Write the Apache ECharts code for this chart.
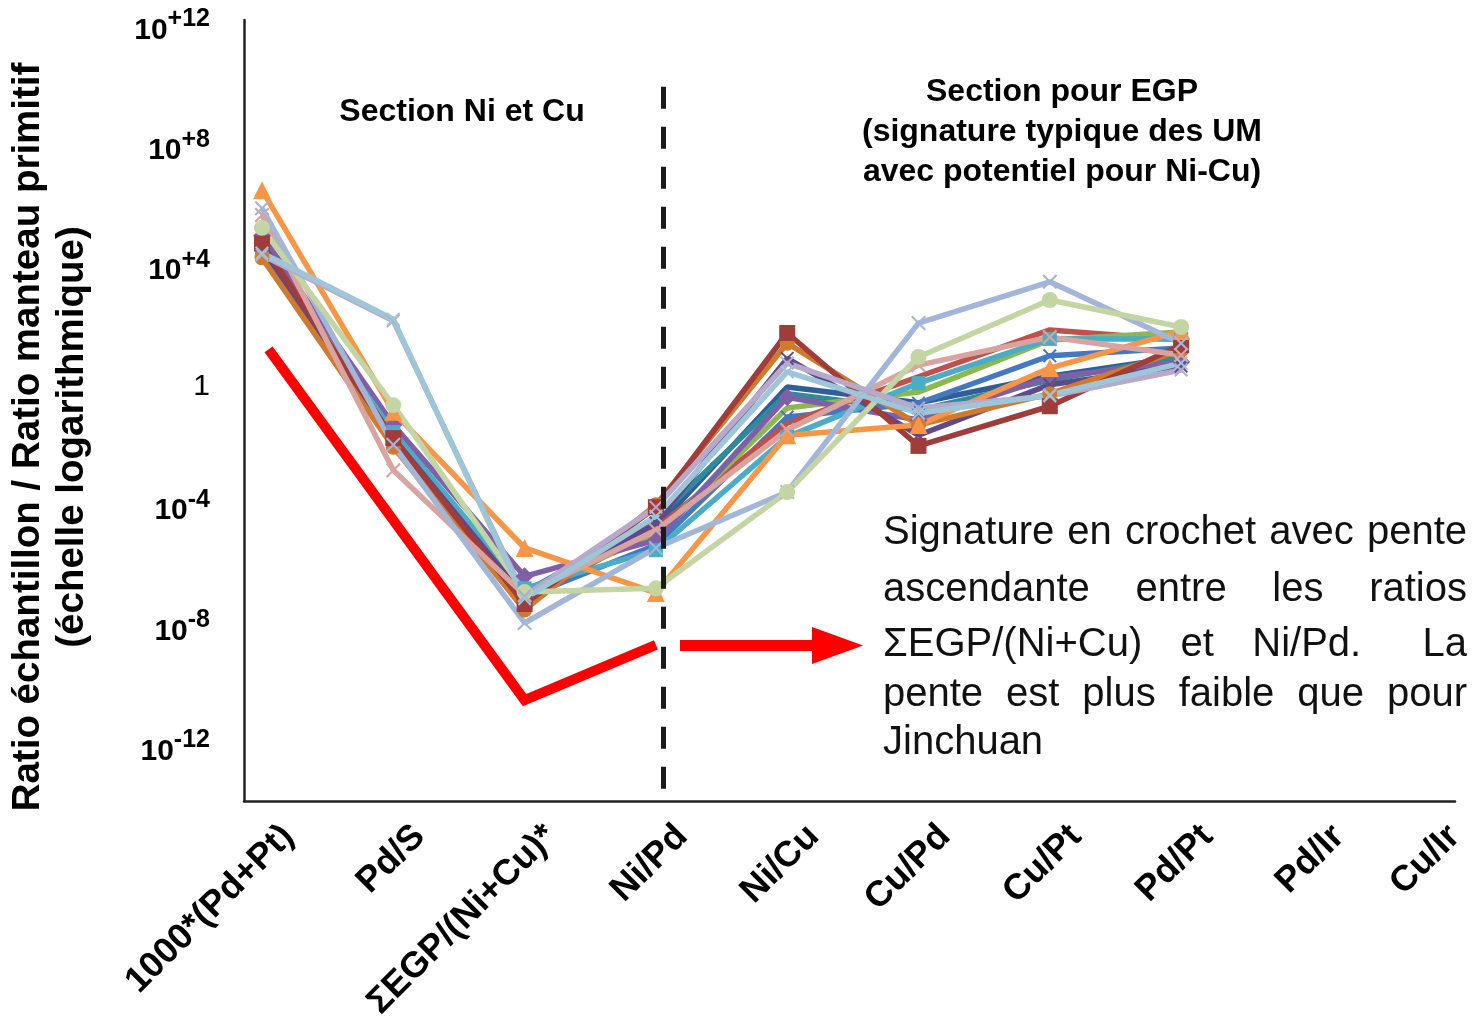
<!DOCTYPE html>
<html><head><meta charset="utf-8">
<script src="https://cdn.jsdelivr.net/npm/echarts@6/dist/echarts.min.js"></script>
<style>html,body{margin:0;padding:0;background:#fff}#c{width:1472px;height:1027px}</style>
</head><body><div id="c"></div>
<script>
// ---- data ----
const categories = ['1000*(Pd+Pt)','Pd/S','ΣEGP/(Ni+Cu)*','Ni/Pd','Ni/Cu','Cu/Pd','Cu/Pt','Pd/Pt','Pd/Ir','Cu/Ir'];
const yTickValues = [1e-12, 1e-8, 1e-4, 1, 1e4, 1e8, 1e12];

const sDarkBlue   = [4e4, 0.03, 1.3e-7, 2e-5, 1, 0.3, 2.3, 10];
const sDarkTeal   = [3.5e4, 0.03, 1.5e-7, 4e-5, 0.6, 0.17, 1.7, 10];
const sBlue       = [5e4, 0.025, 1e-7, 5.5e-6, 0.1, 0.29, 11, 20];
const sRed        = [7e4, 0.04, 8e-8, 2e-5, 0.063, 2.2, 80, 37];
const sGreen      = [8e4, 0.017, 1.7e-7, 1.2e-5, 0.2, 0.68, 37, 68];
const sPurple     = [1.1e5, 0.055, 5e-7, 8e-6, 0.46, 0.08, 2.1, 6.8];
const sTeal       = [4e4, 0.032, 2e-7, 3.7e-6, 0.022, 1.35, 40, 40];
const sDarkPurple = [3e4, 0.02, 1e-7, 3e-5, 9, 0.025, 1.2, 5];
const sBrown      = [2e4, 0.01, 3.8e-8, 1.2e-4, 29, 0.055, 0.6, 17];
const sDarkRed    = [6e4, 0.02, 6e-8, 1e-4, 63, 0.011, 0.23, 25];
const sOrange     = [3.6e6, 0.15, 4.4e-6, 1.4e-7, 0.025, 0.055, 4.3, 73];
const sPink       = [5.3e5, 1.7e-3, 1.2e-7, 1.7e-5, 0.037, 5.4, 46, 11.7];
const sSteelBlue  = [9e5, 0.012, 1.4e-8, 4.4e-6, 3.2e-4, 135, 3200, 29];
const sLightGreen = [2e5, 0.25, 1.5e-7, 2e-7, 3.2e-4, 10, 790, 100];
const sLavender   = [2.5e4, 160, 1.1e-7, 1e-4, 6.3, 0.2, 0.5, 3.7];
const sLightBlue  = [2.9e4, 180, 9e-8, 5e-5, 3.2, 0.135, 0.54, 6.3];

// red "signature" guide line (category position, value)
const signatureIdx = [0.05, 2, 3];
const signatureVal = [18, 3.8e-11, 2.6e-9];

const annotationLines = [
  'Signature en crochet avec pente',
  'ascendante entre les ratios',
  'ΣEGP/(Ni+Cu) et Ni/Pd.  La',
  'pente est plus faible que pour',
  'Jinchuan'
];

// ---- styling ----
const XSYM = 'path://M0,1L1,0L5,4L9,0L10,1L6,5L10,9L9,10L5,6L1,10L0,9L4,5Z';
const seriesDefs = [
  ['dark blue', sDarkBlue, '#2F5F9A', 'none', 0],
  ['dark teal', sDarkTeal, '#2F8A9A', 'none', 0],
  ['blue', sBlue, '#4478C0', XSYM, 14],
  ['red', sRed, '#C0504D', 'none', 0],
  ['green', sGreen, '#8DB850', 'none', 0],
  ['purple', sPurple, '#7F60A8', 'diamond', 18],
  ['teal', sTeal, '#4BACC6', 'rect', 14],
  ['dark purple', sDarkPurple, '#5E4A8A', XSYM, 14],
  ['brown', sBrown, '#D07A2E', 'circle', 15],
  ['dark red', sDarkRed, '#A03C3A', 'rect', 16],
  ['orange', sOrange, '#F79646', 'triangle', 18],
  ['pink', sPink, '#D9A3A0', XSYM, 15],
  ['steel blue', sSteelBlue, '#A1B6D8', XSYM, 15],
  ['light green', sLightGreen, '#C3D5A3', 'circle', 16],
  ['lavender', sLavender, '#B7A9CB', XSYM, 14],
  ['light blue', sLightBlue, '#9DC6D8', XSYM, 14]
];

const FONT = '"Liberation Sans", Arial, sans-serif';
const chart = echarts.init(document.getElementById('c'), null, {renderer: 'canvas'});

const yMin = Math.pow(10, -13.78), yMax = Math.pow(10, 12.22);
const xMin = -0.137, xMax = 9.086;

const series = seriesDefs.map(([name, arr, color, sym, size]) => ({
  name, type: 'line',
  data: arr.map((v, i) => [i, v]),
  symbol: sym, symbolSize: size,
  showSymbol: sym !== 'none',
  lineStyle: {color, width: 5.5},
  itemStyle: {color, borderColor: color, borderWidth: 0},
  z: 3
}));

series.push({
  name: 'signature', type: 'line',
  data: signatureIdx.map((x, i) => [x, signatureVal[i]]),
  symbol: 'none',
  lineStyle: {color: '#FF0000', width: 10, cap: 'butt', join: 'miter'},
  z: 2,
  markLine: {
    silent: true, symbol: 'none', label: {show: false},
    lineStyle: {color: '#1a1a1a', width: 5, type: [22, 18]},
    data: [[{coord: [3.054, 1e10]}, {coord: [3.054, yMin]}]]
  }
});

// justified annotation text
const ctx = document.createElement('canvas').getContext('2d');
const annFont = '40px ' + FONT;
ctx.font = annFont;
const annLeft = 883, annRight = 1467;
const annY = [533, 590, 645, 695, 743];
const graphics = [];
annotationLines.forEach((line, li) => {
  const justify = li < annotationLines.length - 1;
  const words = line.split(/ +/);
  const spaces = (line.match(/ +/g) || []).map(s => s.length);
  const ww = words.map(w => ctx.measureText(w).width);
  const spW = ctx.measureText(' ').width;
  const weights = spaces.map(n => 1 + 0.6 * (n - 1));
  let gap = spW;
  if (justify && words.length > 1) {
    gap = (annRight - annLeft - ww.reduce((a, b) => a + b, 0)) / weights.reduce((a, b) => a + b, 0);
  }
  let x = annLeft;
  words.forEach((w, i) => {
    graphics.push({type: 'text', x, y: annY[li], style: {text: w, font: annFont, fill: '#111', align: 'left', verticalAlign: 'middle'}});
    x += ww[i] + (i < spaces.length ? weights[i] * gap : 0);
  });
});

const boldText = (text, x, y, size, extra) => Object.assign({
  type: 'text', x, y,
  style: {text, font: 'bold ' + size + 'px ' + FONT, fill: '#000', align: 'center', verticalAlign: 'middle'}
}, extra || {});

graphics.push(boldText('Section Ni et Cu', 462, 112, 32));
graphics.push(boldText('Section pour EGP', 1062, 92, 32));
graphics.push(boldText('(signature typique des UM', 1062, 132, 32));
graphics.push(boldText('avec potentiel pour Ni-Cu)', 1062, 172, 32));
graphics.push(boldText('Ratio échantillon / Ratio manteau primitif', 28, 437, 38.5, {rotation: Math.PI / 2}));
graphics.push(boldText('(échelle logarithmique)', 72, 437, 38.5, {rotation: Math.PI / 2}));
// red arrow
graphics.push({type: 'rect', shape: {x: 680, y: 640, width: 136, height: 11}, style: {fill: '#FF0000'}});
graphics.push({type: 'polygon', shape: {points: [[812, 627], [863, 645.5], [812, 664]]}, style: {fill: '#FF0000'}});

const option = {
  animation: false,
  backgroundColor: '#fff',
  grid: {left: 244, right: 17, top: 20, bottom: 226, containLabel: false},
  xAxis: {
    type: 'value', min: xMin, max: xMax,
    axisLine: {show: true, onZero: false, lineStyle: {color: '#222', width: 2.5}},
    axisTick: {show: false}, splitLine: {show: false},
    axisLabel: {
      customValues: categories.map((c, i) => Math.min(i + 0.2, xMax - 0.005)),
      formatter: v => categories[Math.round(v)] || '',
      rotate: 45, margin: 30,
      fontFamily: FONT, fontWeight: 'bold', fontSize: 36, color: '#000'
    }
  },
  yAxis: {
    type: 'log', logBase: 10, min: yMin, max: yMax,
    axisLine: {show: true, onZero: false, lineStyle: {color: '#222', width: 2.5}},
    axisTick: {show: false}, splitLine: {show: false}, minorSplitLine: {show: false},
    axisLabel: {
      customValues: yTickValues,
      margin: 34,
      formatter: v => {
        const e = Math.round(Math.log10(v));
        if (e === 0) return '{one|1}';
        return '{b|10}{s|' + (e > 0 ? '+' : '') + e + '}';
      },
      rich: {
        b: {fontFamily: FONT, fontWeight: 'bold', fontSize: 30, color: '#000', padding: [8, 0, 0, 0]},
        s: {fontFamily: FONT, fontWeight: 'bold', fontSize: 25, color: '#000', padding: [0, 0, 14, 0]},
        one: {fontFamily: FONT, fontSize: 30, color: '#000'}
      }
    }
  },
  series,
  graphic: graphics
};
chart.setOption(option);
</script>
</body></html>
